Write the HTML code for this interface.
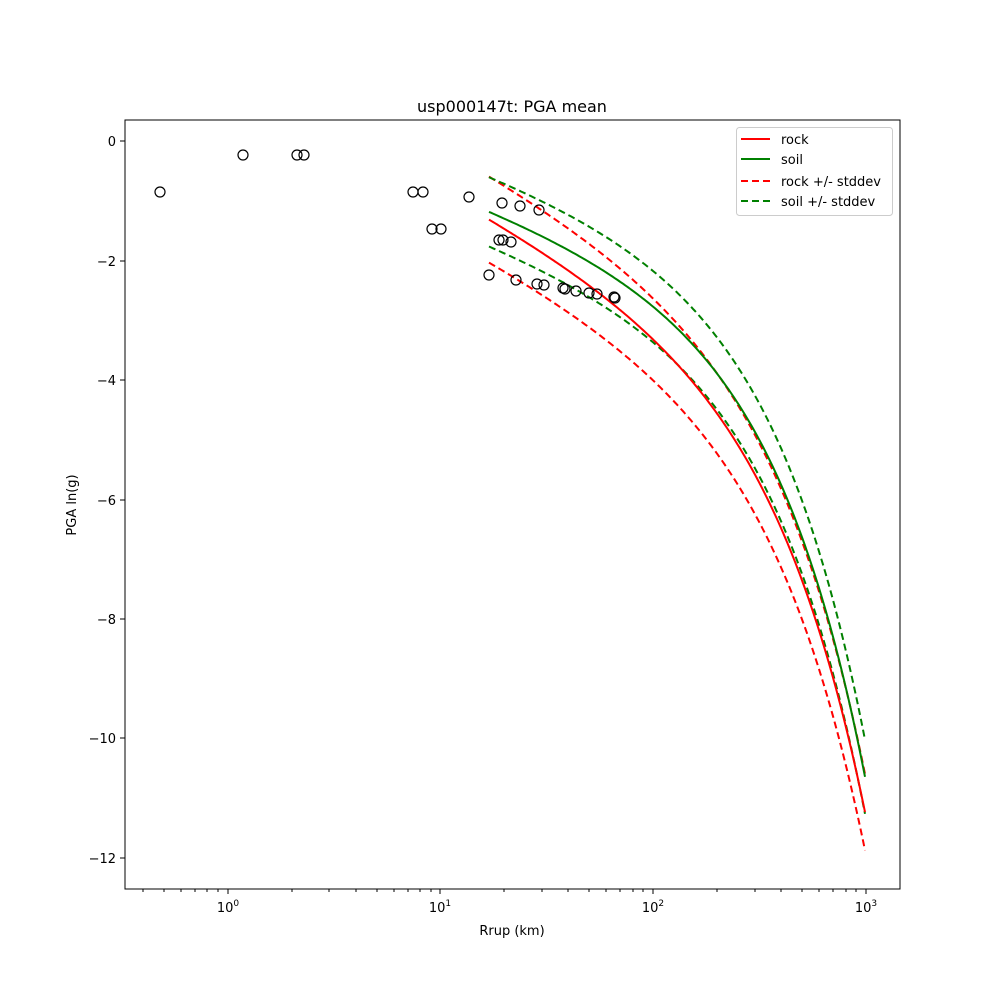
<!DOCTYPE html>
<html><head><meta charset="utf-8"><style>body{margin:0;background:#fff}svg{display:block}text{font-family:"DejaVu Sans","Liberation Sans",sans-serif;fill:#000}</style></head>
<body>
<svg width="1000" height="1000" viewBox="0 0 1000 1000" xmlns="http://www.w3.org/2000/svg">
<rect width="1000" height="1000" fill="#fff"/>
<text x="512" y="112" font-size="16" text-anchor="middle">usp000147t: PGA mean</text>
<g fill="none" stroke-width="2" stroke-linejoin="round">
<path id="rdl" stroke="#ff0000" stroke-dasharray="7,4"/>
<path id="gdl" stroke="#008000" stroke-dasharray="7,4"/>
<path id="rm" stroke="#ff0000"/>
<path id="rdu" stroke="#ff0000" stroke-dasharray="7,4"/>
<path id="gm" stroke="#008000"/>
<path id="gdu" stroke="#008000" stroke-dasharray="7,4"/>
</g>
<g fill="none" stroke="#000" stroke-width="1.2">
<circle cx="160" cy="192" r="5"/><circle cx="243" cy="155" r="5"/><circle cx="297" cy="155" r="5"/><circle cx="304" cy="155" r="5"/>
<circle cx="413" cy="192" r="5"/><circle cx="423" cy="192" r="5"/><circle cx="432" cy="229" r="5"/><circle cx="441" cy="229" r="5"/>
<circle cx="469" cy="197" r="5"/><circle cx="502" cy="203" r="5"/><circle cx="520" cy="206" r="5"/><circle cx="539" cy="210" r="5"/>
<circle cx="499" cy="240" r="5"/><circle cx="503" cy="240" r="5"/><circle cx="511" cy="242" r="5"/>
<circle cx="489" cy="275" r="5"/><circle cx="516" cy="280" r="5"/><circle cx="537" cy="284" r="5"/><circle cx="544" cy="285" r="5"/>
<circle cx="563" cy="288" r="5"/><circle cx="565" cy="289" r="5"/><circle cx="576" cy="291" r="5"/><circle cx="589" cy="293" r="5"/>
<circle cx="597" cy="294" r="5"/><circle cx="614" cy="297" r="5"/><circle cx="615" cy="298" r="5"/>
</g>
<rect x="125" y="120" width="775" height="769" fill="none" stroke="#000" stroke-width="1"/>
<g stroke="#000" stroke-width="1">
<line x1="228" y1="889" x2="228" y2="894"/><line x1="440" y1="889" x2="440" y2="894"/><line x1="653" y1="889" x2="653" y2="894"/><line x1="866" y1="889" x2="866" y2="894"/>
<line x1="143" y1="889" x2="143" y2="892"/><line x1="164" y1="889" x2="164" y2="892"/><line x1="181" y1="889" x2="181" y2="892"/><line x1="195" y1="889" x2="195" y2="892"/><line x1="207" y1="889" x2="207" y2="892"/><line x1="218" y1="889" x2="218" y2="892"/>
<line x1="292" y1="889" x2="292" y2="892"/><line x1="329" y1="889" x2="329" y2="892"/><line x1="356" y1="889" x2="356" y2="892"/><line x1="377" y1="889" x2="377" y2="892"/><line x1="394" y1="889" x2="394" y2="892"/><line x1="408" y1="889" x2="408" y2="892"/><line x1="420" y1="889" x2="420" y2="892"/><line x1="431" y1="889" x2="431" y2="892"/>
<line x1="504" y1="889" x2="504" y2="892"/><line x1="542" y1="889" x2="542" y2="892"/><line x1="568" y1="889" x2="568" y2="892"/><line x1="589" y1="889" x2="589" y2="892"/><line x1="606" y1="889" x2="606" y2="892"/><line x1="620" y1="889" x2="620" y2="892"/><line x1="633" y1="889" x2="633" y2="892"/><line x1="643" y1="889" x2="643" y2="892"/>
<line x1="717" y1="889" x2="717" y2="892"/><line x1="755" y1="889" x2="755" y2="892"/><line x1="781" y1="889" x2="781" y2="892"/><line x1="802" y1="889" x2="802" y2="892"/><line x1="819" y1="889" x2="819" y2="892"/><line x1="833" y1="889" x2="833" y2="892"/><line x1="846" y1="889" x2="846" y2="892"/><line x1="856" y1="889" x2="856" y2="892"/>
<line x1="120" y1="141" x2="125" y2="141"/><line x1="120" y1="261" x2="125" y2="261"/><line x1="120" y1="380" x2="125" y2="380"/><line x1="120" y1="500" x2="125" y2="500"/><line x1="120" y1="619" x2="125" y2="619"/><line x1="120" y1="738" x2="125" y2="738"/><line x1="120" y1="858" x2="125" y2="858"/>
</g>
<g font-size="13">
<text x="228" y="912" text-anchor="middle">10<tspan font-size="9" dy="-6">0</tspan></text>
<text x="440" y="912" text-anchor="middle">10<tspan font-size="9" dy="-6">1</tspan></text>
<text x="653" y="912" text-anchor="middle">10<tspan font-size="9" dy="-6">2</tspan></text>
<text x="866" y="912" text-anchor="middle">10<tspan font-size="9" dy="-6">3</tspan></text>
</g>
<g font-size="13" text-anchor="end">
<text x="116" y="146">0</text><text x="116" y="266">−2</text><text x="116" y="385">−4</text><text x="116" y="505">−6</text><text x="116" y="624">−8</text><text x="116" y="743">−10</text><text x="116" y="863">−12</text>
</g>
<text x="512" y="935" font-size="13" text-anchor="middle">Rrup (km)</text>
<text transform="translate(76,505) rotate(-90)" font-size="13" text-anchor="middle">PGA ln(g)</text>
<rect x="736.5" y="127.5" width="156" height="88" rx="3" fill="#fff" fill-opacity="0.8" stroke="#ccc"/>
<g stroke-width="2">
<line x1="741" y1="139" x2="770" y2="139" stroke="#ff0000"/>
<line x1="741" y1="159" x2="770" y2="159" stroke="#008000"/>
<line x1="741" y1="181" x2="770" y2="181" stroke="#ff0000" stroke-dasharray="7,4"/>
<line x1="741" y1="201" x2="770" y2="201" stroke="#008000" stroke-dasharray="7,4"/>
</g>
<g font-size="13">
<text x="781" y="144">rock</text><text x="781" y="164">soil</text><text x="781" y="186">rock +/- stddev</text><text x="781" y="206">soil +/- stddev</text>
</g>
</svg>
<script>
(function(){
  function Y(v){return 141-59.7*v;}
  function mk(a,b,c,s0,s1,k){
    var d='';
    for(var x=489;x<=865;x+=2){
      var r=Math.pow(10,(x-228)/212.7);
      var v=a-b*Math.log(r)-c*r;
      var t=(x-489)/376;
      v+=k*(s0+(s1-s0)*t);
      d+=(d?' L':'M')+x+','+Y(v).toFixed(1);
    }
    return d;
  }
  var R=[1.095,0.813,0.00681], G=[0.484,0.547,0.00745];
  document.getElementById('rm').setAttribute('d',mk(R[0],R[1],R[2],0.72,0.64,0));
  document.getElementById('rdu').setAttribute('d',mk(R[0],R[1],R[2],0.72,0.64,1));
  document.getElementById('rdl').setAttribute('d',mk(R[0],R[1],R[2],0.72,0.64,-1));
  document.getElementById('gm').setAttribute('d',mk(G[0],G[1],G[2],0.58,0.62,0));
  document.getElementById('gdu').setAttribute('d',mk(G[0],G[1],G[2],0.58,0.62,1));
  document.getElementById('gdl').setAttribute('d',mk(G[0],G[1],G[2],0.58,0.62,-1));
})();
</script>
</body></html>
